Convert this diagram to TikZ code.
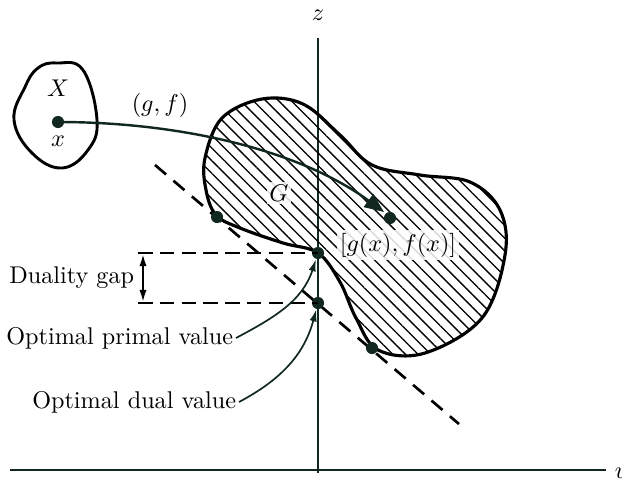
\documentclass[tikz,border=0pt]{standalone}
\usetikzlibrary{arrows.meta,patterns.meta}
\definecolor{dk}{RGB}{16,40,32}
\begin{document}
\begin{tikzpicture}[x=0.413pt,y=-0.413pt,
  dot/.style={circle,fill=dk,inner sep=0pt,minimum size=5pt},
  axis/.style={draw=dk,line width=1.2pt},
  dashln/.style={draw=black,line width=1.1pt,dash pattern=on 6pt off 3pt},
  ann/.style={draw=dk,line width=0.7pt,-{Latex[length=5pt,width=3pt]}},
  lab/.style={inner sep=1pt}]
\useasboundingbox (0,0) rectangle (622,481);
% axes
\coordinate (zt) at (318,38);
\coordinate (zb) at (318,473);
\coordinate (ul) at (10,470);
\coordinate (ur) at (606,470);
\draw[axis] (zt) -- (zb);
\draw[axis] (ul) -- (ur);
\node[lab] (zlab) at (318,15) {$z$};
\node[lab,anchor=west] (ulab) at (612,473) {$u$};
% region G
\filldraw[pattern={Lines[angle=-45,distance=3.7pt,line width=0.55pt]},draw=black,line width=1.3pt]
  plot[smooth cycle,tension=0.6] coordinates {
  (318,253) (283,243) (240,228) (216,215) (206,190) (205,158) (222,118) (262,99)
  (303,104) (340,135) (372,165) (420,175) (470,182) (500,210) (505,255)
  (482,318) (425,353) (378,350) (356,318) (340,282)};
% supporting line
\coordinate (la) at (155,165);
\coordinate (lb) at (459,424);
\draw[dashln,dash pattern=on 6pt off 4pt] (la) -- (lb);
% horizontal dashed lines
\coordinate (h1) at (138,253);
\coordinate (h2) at (138,303);
\node[dot] (p) at (318,253) {};
\node[dot] (d) at (318,303) {};
\draw[dashln] (h1) -- (p.center);
\draw[dashln] (h2) -- (d.center);
\node[dot] (t1) at (217,217) {};
\node[dot] (t2) at (372,348) {};
% duality gap arrow
\coordinate (g1) at (143,254);
\coordinate (g2) at (143,302);
\draw[draw=black,line width=0.8pt,{Latex[length=5pt,width=3pt]}-{Latex[length=5pt,width=3pt]}] (g1) -- (g2);
\node[lab,anchor=east] (gap) at (137,278) {Duality gap};
% region X
\draw[black,line width=1.2pt] plot[smooth cycle,tension=0.7] coordinates {
  (57,63) (83,70) (97,120) (88,150) (62,168) (32,153) (14,120) (25,87) (38,68)};
\node[lab] (Xlab) at (58,88) {$X$};
\node[dot] (x) at (58,122) {};
\node[lab] (xlab) at (58,141) {$x$};
\node[lab] (gf) at (160,105) {$(g,f)$};
% mapping arrow
\coordinate (gtip) at (384,212);
\draw[dk,line width=1pt,-{Triangle[length=8pt,width=6.5pt]}] (x.center) .. controls (180,122) and (300,150) .. (gtip);
\node[dot] (gx) at (390,218) {};
\node[lab,fill=white,fill opacity=0.85,text opacity=1] (gxlab) at (398,245) {$[g(x),f(x)]$};
\node[lab,fill=white,fill opacity=0.85,text opacity=1] (Glab) at (279,193) {$G$};
% annotations
\node[lab,anchor=east] (primal) at (236,338) {Optimal primal value};
\node[lab,anchor=east] (dual) at (239,402) {Optimal dual value};
\draw[ann] (primal.east) to[out=28,in=-108] (p);
\draw[ann] (dual.east) to[out=28,in=-105] (d);
\end{tikzpicture}
\end{document}
